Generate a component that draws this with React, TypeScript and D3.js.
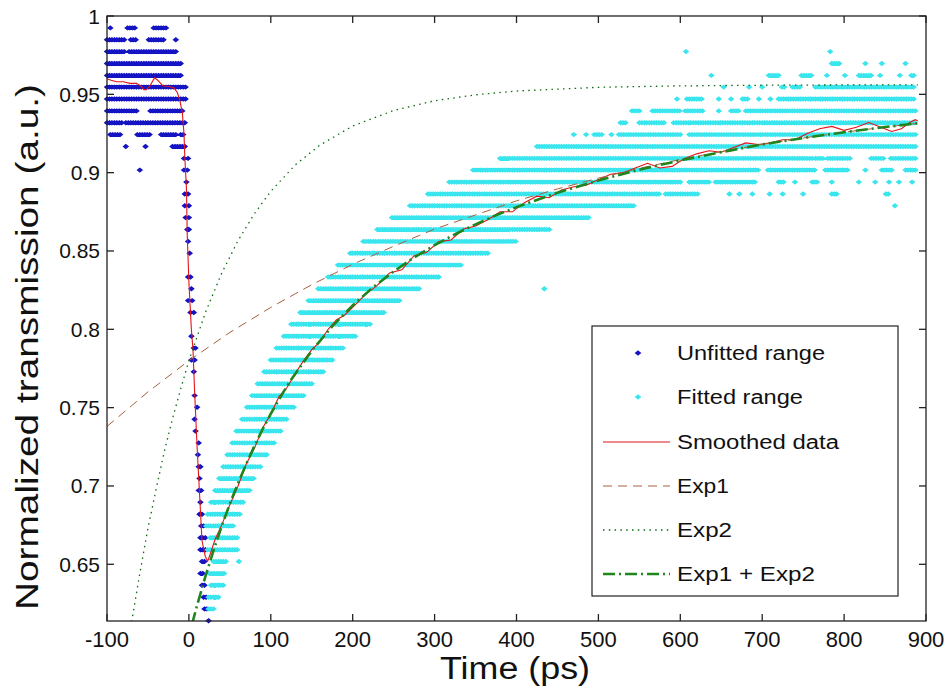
import React from "react";
import * as d3 from "d3";

const xTickValues = [-100, 0, 100, 200, 300, 400, 500, 600, 700, 800, 900];
const yTickValues = [0.65, 0.7, 0.75, 0.8, 0.85, 0.9, 0.95, 1];
const yTickLabels = ["0.65", "0.7", "0.75", "0.8", "0.85", "0.9", "0.95", "1"];
const legendLabels = ["Unfitted range", "Fitted range", "Smoothed data", "Exp1", "Exp2", "Exp1 + Exp2"];

// quantised transmission level, then runs [from, to] in ps where points sit on that level
type Row = [number, number[][]];

const unfittedRows: Row[] = [
  [0.9924, [[-96, -96], [-75, -65], [-43, -26]]],
  [0.9848, [[-100, -78], [-71, -63], [-49, -30], [-16, -16]]],
  [0.9773, [[-100, -78], [-73, -14]]],
  [0.9697, [[-100, -8]]],
  [0.9621, [[-100, -8]]],
  [0.9546, [[-100, -4]]],
  [0.947, [[-100, -2]]],
  [0.9394, [[-100, -63], [-47, -6]]],
  [0.9318, [[-100, -81], [-77, -4]]],
  [0.9243, [[-96, -84], [-63, -47], [-34, -16], [-10, -5]]],
  [0.9167, [[-77, -77], [-53, -53], [-20, -4]]],
  [0.9091, [[-6, -6], [-1, -1]]],
  [0.9016, [[-60, -60], [-6, -6], [-2, -2]]],
  [0.894, [[-3, -3]]],
  [0.8864, [[-5, -5], [-1, -1]]],
  [0.8789, [[-5, -5], [0, 0]]],
  [0.8713, [[-4, -4], [0, 0]]],
  [0.8637, [[-2, -2], [0, 0]]],
  [0.8561, [[-1, 1]]],
  [0.8486, [[1, 1]]],
  [0.8334, [[-1, -1], [2, 2]]],
  [0.8259, [[3, 3]]],
  [0.8183, [[-1, -1], [4, 4]]],
  [0.8107, [[2, 2], [6, 6]]],
  [0.7956, [[3, 3]]],
  [0.788, [[6, 6], [8, 8]]],
  [0.7804, [[3, 3], [7, 7]]],
  [0.7729, [[6, 6]]],
  [0.7577, [[7, 7]]],
  [0.7502, [[10, 10]]],
  [0.7426, [[7, 7]]],
  [0.735, [[8, 8]]],
  [0.7275, [[12, 12]]],
  [0.7199, [[11, 11]]],
  [0.7123, [[12, 12], [14, 14]]],
  [0.7048, [[13, 13]]],
  [0.6972, [[12, 12], [15, 15]]],
  [0.6896, [[14, 14]]],
  [0.682, [[13, 13], [16, 16]]],
  [0.6745, [[15, 15], [18, 18]]],
  [0.6669, [[14, 20]]],
  [0.6593, [[14, 20]]],
  [0.6518, [[16, 21]]],
  [0.6442, [[14, 18]]],
  [0.6366, [[16, 20]]],
  [0.629, [[18, 22]]],
  [0.6215, [[19, 23]]],
  [0.6139, [[24, 24]]],
];

const fittedRows: Row[] = [
  [0.9773, [[607, 607], [783, 783]]],
  [0.9697, [[785, 796], [826, 826], [846, 846], [875, 875]]],
  [0.9621, [[638, 638], [708, 722], [748, 760], [779, 779], [801, 801], [818, 834], [844, 844], [868, 868], [882, 887]]],
  [0.9546, [[653, 653], [684, 684], [700, 700], [724, 729], [737, 748], [765, 887]]],
  [0.947, [[596, 596], [608, 626], [647, 647], [662, 662], [676, 682], [696, 696], [710, 710], [720, 887]]],
  [0.9394, [[541, 552], [566, 599], [606, 629], [647, 647], [662, 671], [680, 887]]],
  [0.9318, [[527, 533], [550, 582], [592, 887]]],
  [0.9243, [[470, 470], [485, 485], [495, 505], [516, 516], [525, 602], [611, 887]]],
  [0.9167, [[425, 887]]],
  [0.9091, [[380, 761], [765, 776], [780, 809], [833, 849], [857, 887]]],
  [0.9016, [[347, 697], [707, 765], [777, 806], [826, 826], [846, 858], [875, 887]]],
  [0.894, [[318, 602], [611, 635], [643, 691], [720, 728], [740, 740], [761, 769], [785, 785], [818, 818], [838, 838], [855, 855], [867, 867], [883, 883]]],
  [0.8864, [[292, 574], [582, 623], [660, 660], [672, 672], [688, 688], [709, 709], [725, 725], [750, 750], [785, 793], [851, 855]]],
  [0.8789, [[270, 545], [862, 862]]],
  [0.8713, [[248, 490]]],
  [0.8637, [[230, 442]]],
  [0.8561, [[213, 400]]],
  [0.8486, [[197, 366]]],
  [0.841, [[182, 333]]],
  [0.8334, [[170, 305]]],
  [0.8259, [[158, 281], [434, 434]]],
  [0.8183, [[146, 258]]],
  [0.8107, [[136, 240]]],
  [0.8032, [[125, 221]]],
  [0.7956, [[116, 205]]],
  [0.788, [[107, 190]]],
  [0.7804, [[100, 176]]],
  [0.7729, [[92, 164]]],
  [0.7653, [[84, 152]]],
  [0.7577, [[77, 141]]],
  [0.7502, [[71, 130]]],
  [0.7426, [[65, 121]]],
  [0.735, [[58, 112]]],
  [0.7275, [[53, 104]]],
  [0.7199, [[47, 96]]],
  [0.7123, [[42, 88]]],
  [0.7048, [[37, 81]]],
  [0.6972, [[32, 74]]],
  [0.6896, [[27, 68]]],
  [0.682, [[23, 62]]],
  [0.6745, [[21, 56]]],
  [0.6669, [[26, 59]]],
  [0.6593, [[23, 59]]],
  [0.6518, [[30, 47], [61, 61]]],
  [0.6442, [[25, 45]]],
  [0.6366, [[27, 43]]],
  [0.629, [[24, 38]]],
  [0.6215, [[24, 30]]],
];

const smoothedX = [-100, -95, -88, -80, -72, -64, -58, -55, -52, -48, -42, -38, -32, -24, -18, -14, -11, -8, -6, -5, -3, -2, 0, 3, 5, 7, 10, 13, 16, 20, 23, 27, 32, 40, 50, 60, 70, 80, 90, 100, 110, 120, 130, 140, 150, 160, 170, 180, 190, 200, 215, 230, 245, 260, 275, 290, 305, 320, 335, 350, 365, 380, 395, 410, 425, 440, 455, 470, 485, 500, 515, 530, 545, 560, 575, 590, 605, 620, 635, 650, 665, 680, 695, 710, 725, 740, 755, 770, 785, 800, 815, 830, 845, 858, 870, 880, 887, 890];
const smoothedY = [0.96, 0.959, 0.958, 0.958, 0.957, 0.957, 0.955, 0.953, 0.953, 0.955, 0.9605, 0.959, 0.9555, 0.955, 0.954, 0.951, 0.946, 0.938, 0.925, 0.91, 0.89, 0.86, 0.83, 0.8, 0.787, 0.76, 0.725, 0.695, 0.665, 0.655, 0.652, 0.658, 0.666, 0.675, 0.688, 0.7, 0.714, 0.724, 0.737, 0.746, 0.757, 0.763, 0.772, 0.78, 0.787, 0.792, 0.8, 0.806, 0.809, 0.814, 0.822, 0.828, 0.836, 0.838, 0.847, 0.849, 0.856, 0.857, 0.864, 0.866, 0.87, 0.875, 0.875, 0.881, 0.885, 0.884, 0.889, 0.891, 0.892, 0.8955, 0.899, 0.9, 0.903, 0.906, 0.903, 0.904, 0.909, 0.912, 0.914, 0.913, 0.916, 0.919, 0.918, 0.919, 0.921, 0.921, 0.925, 0.928, 0.9295, 0.927, 0.929, 0.932, 0.929, 0.9263, 0.928, 0.932, 0.9338, 0.933];

const exp1X = [-100, -50, 0, 50, 100, 150, 200, 250, 300, 350, 400, 450, 500, 550, 600, 650, 700, 750, 800, 850, 890];
const exp1Y = [0.738, 0.76, 0.78, 0.798, 0.814, 0.8285, 0.8415, 0.853, 0.864, 0.873, 0.882, 0.8896, 0.8965, 0.9028, 0.9084, 0.9134, 0.918, 0.9221, 0.9258, 0.9291, 0.9315];

const exp2X = [-72, -70, -60, -50, -40, -30, -20, -10, 0, 20, 40, 60, 80, 100, 130, 160, 200, 250, 300, 350, 400, 500, 600, 700, 800, 890];
const exp2Y = [0.606, 0.613, 0.644, 0.673, 0.698, 0.722, 0.743, 0.762, 0.78, 0.8105, 0.8358, 0.8566, 0.8738, 0.8881, 0.905, 0.9176, 0.9298, 0.9397, 0.9459, 0.9497, 0.9521, 0.9545, 0.9554, 0.9558, 0.956, 0.956];

const sumX = [4, 6, 10, 20, 30, 40, 50, 60, 70, 80, 90, 100, 115, 125, 150, 175, 200, 225, 250, 275, 300, 325, 350, 375, 400, 450, 500, 550, 600, 650, 700, 750, 800, 850, 890];
const sumY = [0.612, 0.616, 0.6238, 0.6419, 0.6587, 0.6743, 0.6886, 0.7018, 0.714, 0.7255, 0.7362, 0.7461, 0.7596, 0.7679, 0.7863, 0.8019, 0.8153, 0.8269, 0.8369, 0.8459, 0.8537, 0.8607, 0.867, 0.8728, 0.878, 0.8872, 0.895, 0.9019, 0.9078, 0.9131, 0.918, 0.9221, 0.9258, 0.9291, 0.9315];

const RUN_STEP = 3;

function expandRows(rows: Row[]): [number, number][] {
  const pts: [number, number][] = [];
  rows.forEach(([lvl, runs]) => {
    runs.forEach(([a, b]) => {
      for (let t = a; t <= b + 1e-9; t += RUN_STEP) pts.push([t, lvl]);
    });
  });
  return pts;
}

const FONT = "'Liberation Sans', Arial, Helvetica, sans-serif";

export default function App() {
  const W = 949;
  const H = 692;
  const L = 107, R = 926, T = 16, B = 621;
  const x = d3.scaleLinear().domain([-100, 900]).range([L, R]);
  const y = d3.scaleLinear().domain([0.6138, 1]).range([B, T]);

  const diamonds = (pts: [number, number][]) =>
    pts
      .map(([a, b]) => {
        const px = x(a), py = y(b);
        return `M${px.toFixed(1)},${(py - 2.7).toFixed(1)}l3.3,2.7l-3.3,2.7l-3.3,-2.7z`;
      })
      .join("");

  const unfitted = expandRows(unfittedRows);
  const fitted = expandRows(fittedRows);

  const mk = (xs: number[], ys: number[]) =>
    d3
      .line<[number, number]>()
      .x((d) => x(d[0]))
      .y((d) => y(d[1]))(xs.map((v, i) => [v, ys[i]] as [number, number])) || "";

  const tickLen = 7;
  const legendX = 592, legendY = 326, legendW = 306, legendH = 270;
  const rowY = [353, 397, 442, 486, 530, 574];
  const legendTextLen = [148, 126, 162, 52, 55, 138];

  return (
    <svg
      width={W}
      height={H}
      style={{ position: "absolute", left: 0, top: 0, background: "#fff" }}
      fontFamily={FONT}
    >
      <defs>
        <clipPath id="plotclip">
          <rect x={L} y={T} width={R - L} height={B - T} />
        </clipPath>
      </defs>
      <rect x={0} y={0} width={W} height={H} fill="#fff" />

      <path d={diamonds(unfitted)} fill="#1414c4" />
      <path d={diamonds(fitted)} fill="#3ae6ee" />

      <g clipPath="url(#plotclip)" fill="none">
        <path d={mk(smoothedX, smoothedY)} stroke="#e2141a" strokeWidth={1.1} />
        <path d={mk(exp1X, exp1Y)} stroke="#a8603e" strokeWidth={1} strokeDasharray="9,6" />
        <path d={mk(exp2X, exp2Y)} stroke="#0d6b12" strokeWidth={1.3} strokeDasharray="1.5,4.3" />
        <path d={mk(sumX, sumY)} stroke="#1d861d" strokeWidth={2.6} strokeDasharray="12,4,2,4" />
      </g>

      <rect x={L} y={T} width={R - L} height={B - T} fill="none" stroke="#222" strokeWidth={1.3} />
      {xTickValues.map((v) => (
        <g key={"xt" + v}>
          <line x1={x(v)} x2={x(v)} y1={B} y2={B - tickLen} stroke="#222" strokeWidth={1.3} />
          <line x1={x(v)} x2={x(v)} y1={T} y2={T + tickLen} stroke="#222" strokeWidth={1.3} />
          <text x={x(v)} y={647} textAnchor="middle" fontSize={22} fill="#111">
            {String(v)}
          </text>
        </g>
      ))}
      {yTickValues.map((v, i) => (
        <g key={"yt" + v}>
          <line x1={L} x2={L + tickLen} y1={y(v)} y2={y(v)} stroke="#222" strokeWidth={1.3} />
          <line x1={R} x2={R - tickLen} y1={y(v)} y2={y(v)} stroke="#222" strokeWidth={1.3} />
          <text x={100} y={y(v) + 7.5} textAnchor="end" fontSize={21} fill="#111">
            {yTickLabels[i]}
          </text>
        </g>
      ))}

      <text x={515} y={679} textAnchor="middle" fontSize={31} fill="#111" textLength={150} lengthAdjust="spacingAndGlyphs">
        Time (ps)
      </text>
      <text
        transform={`translate(38, 347) rotate(-90)`}
        textAnchor="middle"
        fontSize={32}
        fill="#111"
        textLength={526}
        lengthAdjust="spacingAndGlyphs"
      >
        Normalized transmission (a.u.)
      </text>

      <rect x={legendX} y={legendY} width={legendW} height={legendH} fill="#fff" stroke="#222" strokeWidth={1.2} />
      <path d={`M638,${rowY[0] - 2.7}l3.3,2.7l-3.3,2.7l-3.3,-2.7z`} fill="#1414c4" />
      <path d={`M638,${rowY[1] - 2.7}l3.3,2.7l-3.3,2.7l-3.3,-2.7z`} fill="#3ae6ee" />
      <line x1={603} x2={670} y1={rowY[2]} y2={rowY[2]} stroke="#e2141a" strokeWidth={1.1} />
      <line x1={603} x2={670} y1={rowY[3]} y2={rowY[3]} stroke="#a8603e" strokeWidth={1} strokeDasharray="9,6" />
      <line x1={603} x2={670} y1={rowY[4]} y2={rowY[4]} stroke="#0d6b12" strokeWidth={1.3} strokeDasharray="1.5,4.3" />
      <line x1={603} x2={670} y1={rowY[5]} y2={rowY[5]} stroke="#1d861d" strokeWidth={2.6} strokeDasharray="12,4,2,4" />
      {legendLabels.map((s, i) => (
        <text key={s} x={677} y={rowY[i] + 7} fontSize={20} fill="#111" textLength={legendTextLen[i]} lengthAdjust="spacingAndGlyphs">
          {s}
        </text>
      ))}
    </svg>
  );
}
